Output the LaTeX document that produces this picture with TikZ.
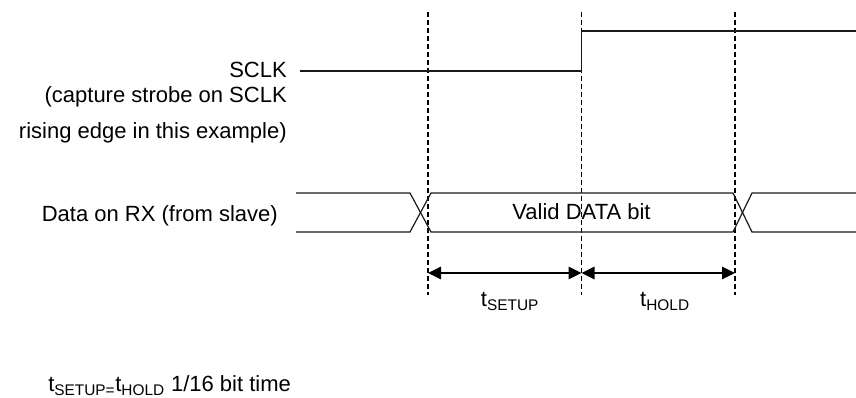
\documentclass[tikz,border=0pt]{standalone}
\usepackage{fontspec}
\setmainfont{Liberation Sans}
\usetikzlibrary{arrows.meta, positioning, calc}

\begin{document}
\begin{tikzpicture}[
    x=0.75pt, y=-0.75pt,
    every node/.style={font=\fontsize{16.5}{19.5}\selectfont, inner sep=0pt},
    signal/.style={line width=0.9pt, draw=black!90},
    guide/.style={line width=0.8pt, dash pattern=on 3.75pt off 2.25pt},
    timing/.style={{Triangle[length=9.75pt, width=9.5pt]}-{Triangle[length=9.75pt, width=9.5pt]}, line width=0.9pt},
    lbl/.style={anchor=base east}
]
    \useasboundingbox (0,0) rectangle (856,398);

    % Dashed guide lines at the strobe points
    \foreach \gx/\gname in {428/ga, 581.5/gb, 735/gc} {
        \coordinate (\gname-top) at (\gx,12);
        \coordinate (\gname-bot) at (\gx,295);
        \draw[guide] (\gname-top) -- (\gname-bot);
    }

    % Signal names on the left
    \node[lbl] (sclk) at (287,78) {SCLK};
    \node[lbl] (capture) at (287,103) {(capture strobe on SCLK};
    \node[lbl] (rising) at (287,139) {rising edge in this example)};
    \node[lbl] (rxdata) at (278,222) {Data on RX (from slave)};

    % SCLK waveform
    \draw[signal] (300,71) -- (581.5,71) -- (581.5,31) -- (856,31);

    % Data bus with two transitions
    \draw[signal] (296,193) -- (410,193) -- (431,232) -- (733,232) -- (752,193) -- (856,193);
    \draw[signal] (296,232) -- (410,232) -- (431,193) -- (733,193) -- (752,232) -- (856,232);
    \node[anchor=base] (valid) at (581.5,220) {Valid DATA bit};

    % Setup and hold intervals
    \coordinate (tsu-l) at (ga-top |- 0,273);
    \coordinate (tsu-r) at (gb-top |- 0,273);
    \coordinate (th-r) at (gc-top |- 0,273);
    \draw[timing] (tsu-l) -- (tsu-r);
    \draw[timing] (tsu-r) -- (th-r);
    \node[anchor=base] (tsetup) at (510,307) {t\textsubscript{SETUP}};
    \node[anchor=base] (thold) at (665,307) {t\textsubscript{HOLD}};

    % Note
    \node[anchor=base west] (ratio) at (48,392) {t\textsubscript{SETUP=}t\textsubscript{HOLD} 1/16 bit time};
\end{tikzpicture}
\end{document}
